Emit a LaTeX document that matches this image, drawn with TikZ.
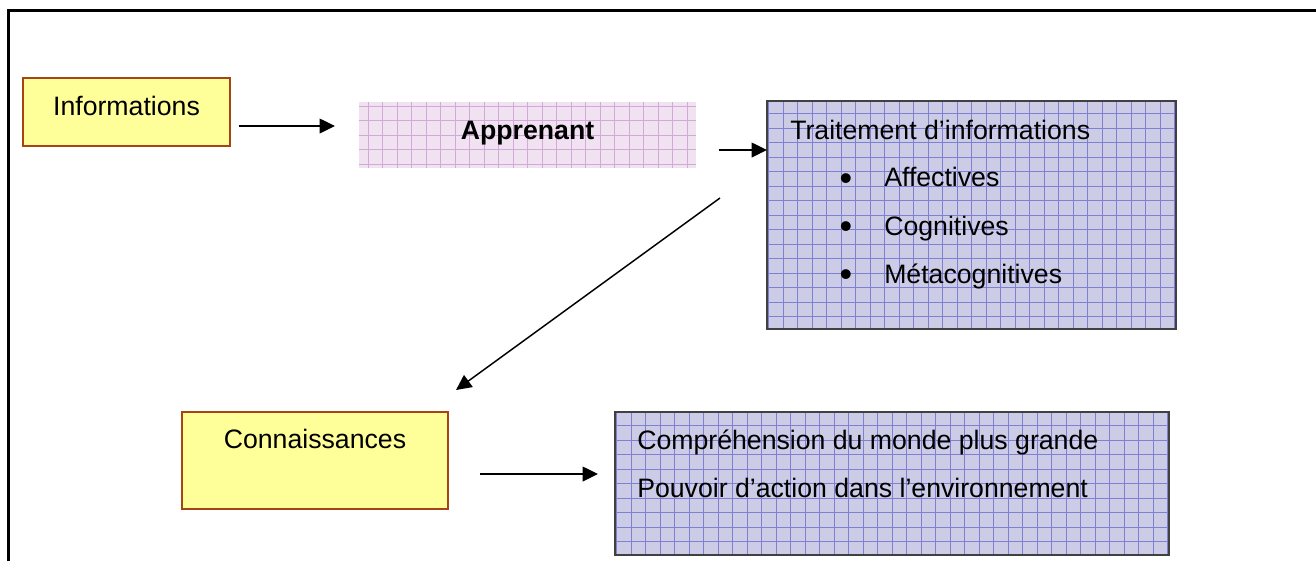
\documentclass[tikz,border=0pt]{standalone}
\usepackage{fontspec}
\setmainfont{Liberation Sans}
\usetikzlibrary{calc,arrows.meta}
\definecolor{yfill}{RGB}{255,255,153}
\definecolor{ydraw}{RGB}{165,68,20}
\definecolor{lavfill}{RGB}{204,204,230}
\definecolor{lavline}{RGB}{128,128,210}
\definecolor{pinkfill}{RGB}{240,226,240}
\definecolor{pinkline}{RGB}{210,170,216}
\definecolor{bdraw}{RGB}{64,64,64}
\tikzset{
  txt/.style={font=\fontsize{20pt}{24pt}\selectfont, inner sep=0pt},
  bul/.style={font=\fontsize{27pt}{30pt}\selectfont, inner sep=0pt},
  ybox/.style={rectangle, fill=yfill, draw=ydraw, line width=1.1pt, inner sep=0pt, outer sep=0pt},
  lavbox/.style={rectangle, fill=lavfill, draw=bdraw, line width=1.5pt, inner sep=0pt, outer sep=0pt,
    path picture={\draw[lavline, line width=0.55pt, step=10.875pt]
      (path picture bounding box.south west) grid (path picture bounding box.north east);}},
  pinkbox/.style={rectangle, fill=pinkfill, inner sep=0pt, outer sep=0pt,
    path picture={\draw[pinkline, line width=0.55pt, step=10.875pt]
      (path picture bounding box.south west) grid (path picture bounding box.north east);}},
  arr/.style={line width=1.1pt, -{Triangle[length=11.5pt,width=11pt]}},
  frameline/.style={line width=2.25pt}
}
\begin{document}
\begin{tikzpicture}[x=0.75pt,y=-0.75pt]
\useasboundingbox (0,0) rectangle (1316,561);
% frame
\coordinate (fbl) at (8.5,561);
\coordinate (ftl) at (8.5,10.5);
\coordinate (ftr) at (1316,10.5);
\draw[frameline] (fbl) -- (ftl) -- (ftr);
% boxes
\node[ybox, minimum width=155.25pt, minimum height=51pt] (info) at (126.5,112) {};
\node[pinkbox, minimum width=252.75pt, minimum height=49.5pt] (appr) at (527.5,135) {};
\node[lavbox, minimum width=306.75pt, minimum height=171pt] (trait) at (971.5,215) {};
\node[ybox, minimum width=199.5pt, minimum height=72.75pt] (conn) at (315,460.5) {};
\node[lavbox, minimum width=415.5pt, minimum height=107.25pt] (res) at (892,483.5) {};
% texts
\node[txt, anchor=base] (tinfo) at (126.5,115) {Informations};
\node[txt, anchor=base, font=\fontsize{20pt}{24pt}\selectfont\bfseries] (tappr) at (527.5,139) {Apprenant};
\node[txt, anchor=base west] (ttrait) at (790,139) {Traitement d’informations};
\node[bul] (b1) at (846,182) {•};
\node[txt, anchor=base west] (t1) at (884,186.5) {Affectives};
\node[bul] (b2) at (846,230.5) {•};
\node[txt, anchor=base west] (t2) at (884,235) {Cognitives};
\node[bul] (b3) at (846,278.5) {•};
\node[txt, anchor=base west] (t3) at (884,283) {Métacognitives};
\node[txt, anchor=base] (tconn) at (315,448) {Connaissances};
\node[txt, anchor=base west] (tr1) at (637,449) {Compréhension du monde plus grande};
\node[txt, anchor=base west] (tr2) at (637,497) {Pouvoir d’action dans l’environnement};
% connectors
\draw[arr] ($(info.east)+(9,14)$) -- ($(appr.west)+(-24,-9)$);
\draw[arr] ($(appr.east)+(23,15)$) -- ($(trait.west)+(0,-65)$);
\draw[arr] ($(appr.south east)+(24,30)$) -- ($(conn.north east)+(8,-22)$);
\draw[arr] ($(conn.east)+(32,13.5)$) -- ($(res.west)+(-17,-9.5)$);
\end{tikzpicture}
\end{document}
